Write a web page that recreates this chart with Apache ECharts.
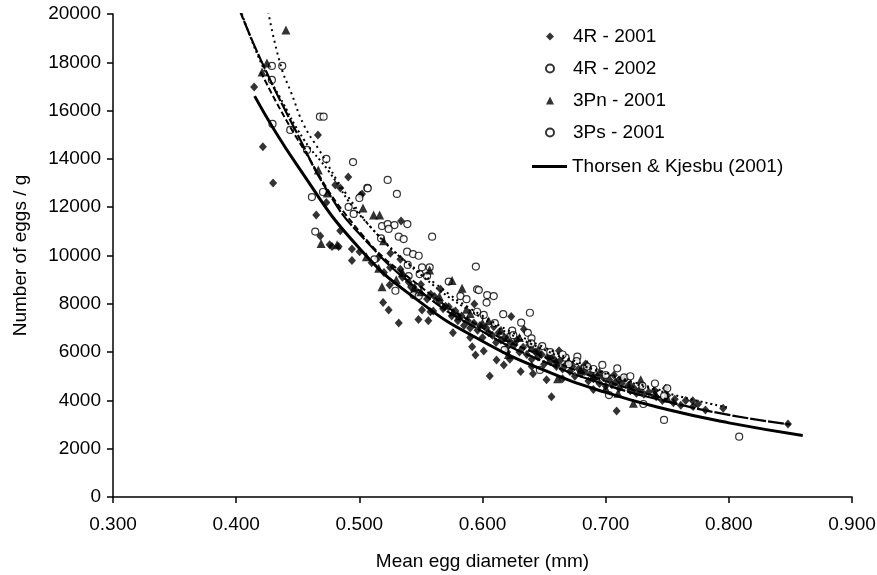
<!DOCTYPE html>
<html>
<head>
<meta charset="utf-8">
<script src="https://cdn.jsdelivr.net/npm/echarts@6/dist/echarts.min.js"></script>
<style>
  html, body { margin: 0; padding: 0; background: #fff; }
  #chart { width: 877px; height: 575px; }
</style>
</head>
<body>
<div id="chart"></div>
<script>
// values: [diameter mm, eggs per g]
var r4_2001 = [
  [0.4146,16980],[0.4217,14500],[0.430,13000],[0.4664,14990],[0.491,13250],[0.4846,12800],
  [0.5022,12550],[0.4805,12920],[0.5008,12500],[0.4732,12190],[0.465,11680],[0.5339,11430],
  [0.4845,11030],[0.4683,10810],[0.4759,10440],[0.4778,10370],[0.4832,10370],[0.494,10270],
  [0.5002,10160],[0.5252,10090],[0.494,9790],[0.5333,9840],[0.5333,9430],[0.5246,8780],
  [0.5659,8600],[0.5193,8050],[0.5238,7740],[0.5934,7990],[0.5509,7740],[0.5577,7670],
  [0.5726,7880],[0.6233,7470],[0.6336,6950],[0.6092,7050],[0.6621,6060],[0.5916,6220],
  [0.5943,5880],[0.6114,5670],[0.6173,5470],[0.6222,5700],[0.6059,5010],[0.652,4850],
  [0.6837,5510],[0.7155,4920],[0.7068,5050],[0.7108,4850],[0.7163,4920],[0.740,4400],
  [0.7488,4500],[0.7561,4050],[0.7707,3990],[0.7954,3670],[0.848,3020],[0.7089,3560],
  [0.510,9700],[0.520,9300],[0.540,8900],[0.545,8500],[0.555,8200],[0.561,8300],
  [0.570,7900],[0.575,7500],[0.580,7300],[0.585,7100],[0.590,7000],[0.596,6900],
  [0.600,6600],[0.605,6800],[0.611,6400],[0.615,6500],[0.620,6200],[0.626,6300],
  [0.630,6000],[0.636,5900],[0.640,5700],[0.645,5800],[0.650,5500],[0.655,5600],
  [0.660,5400],[0.665,5300],[0.671,5200],[0.675,5000],[0.680,5100],[0.686,4800],
  [0.690,4900],[0.695,4700],[0.700,4600],[0.705,4650],[0.711,4500],[0.720,4400],
  [0.725,4300],[0.731,4250],[0.741,4150],[0.746,4000],[0.755,3900],[0.761,3800],
  [0.771,3750],[0.781,3600],[0.656,4150],[0.631,5200],[0.641,5100],[0.601,6050],
  [0.576,6800],[0.556,7300],[0.532,7200],[0.548,7350],
  [0.515,9900],[0.525,9500],[0.535,9100],[0.542,8700],[0.550,8800],[0.558,8400],
  [0.565,8100],[0.568,7800],[0.578,7700],[0.583,7500],[0.588,7300],[0.593,7200],
  [0.598,7100],[0.603,7000],[0.608,6700],[0.613,6800],[0.618,6600],[0.623,6400],
  [0.628,6500],[0.633,6200],[0.638,6300],[0.643,6000],[0.648,5900],[0.653,5800],
  [0.658,5700],[0.663,5650],[0.668,5500],[0.673,5400],[0.678,5300],[0.683,5200],
  [0.688,5100],[0.693,5000],[0.698,4950],[0.703,4850],[0.708,4750],[0.713,4700],
  [0.718,4600],[0.723,4500],[0.728,4450],[0.735,4350],[0.750,4200],[0.765,4000],
  [0.775,3850],[0.560,7700],[0.590,6600],[0.620,6000],[0.640,5400],[0.665,4900],
  [0.690,4450]
];
var r4_2002 = [
  [0.429,17850],[0.4374,17850],[0.429,17270],[0.468,15750],[0.471,15750],[0.4295,15450],
  [0.4439,15200],[0.4575,14370],[0.4732,14000],[0.4949,13870],[0.5065,12800],[0.4615,12420],
  [0.4705,12630],[0.523,13130],[0.5068,12780],[0.5305,12550],[0.500,12380],[0.4913,12010],
  [0.4954,11720],[0.5184,11220],[0.523,11300],[0.5285,11260],[0.539,11300],[0.5238,11100],
  [0.4642,10990],[0.532,10780],[0.536,10680],[0.5591,10780],[0.5176,10710],[0.5388,10160],
  [0.5436,10060],[0.5482,9990],[0.5122,9840],[0.5393,9610],[0.5509,9510],[0.5571,9510],
  [0.5946,9540],[0.540,9150],[0.549,9230],[0.555,9150],[0.5293,8540],[0.5726,8920],
  [0.5956,8600],[0.6038,8360],[0.5441,8360],[0.5482,8320]
];
var p3n_2001 = [
  [0.4404,19340],[0.425,17970],[0.421,17600],[0.474,12590],[0.503,11970],[0.5116,11680],
  [0.5165,11680],[0.5197,10610],[0.5057,9950],[0.5157,9470],[0.557,9400],[0.5184,8710],
  [0.5753,8960],[0.5834,8640],[0.587,7770],[0.5761,7670],[0.5807,7490],[0.7285,4850],
  [0.7225,3880],[0.4819,10440],[0.469,10500],[0.4667,13540],[0.530,9000],[0.545,8700],
  [0.600,7200],[0.620,6600],[0.640,6200],[0.660,5600],[0.680,5300],[0.690,5000],
  [0.700,4500],[0.710,4300],[0.661,4900],[0.621,5900],
  [0.535,9300],[0.550,8500],[0.565,8300],[0.590,7600],[0.605,7300],[0.615,6900],
  [0.630,6600],[0.645,6100],[0.655,5900],[0.670,5600],[0.685,5500],[0.695,5200],
  [0.720,4700],[0.740,4300],[0.750,4100]
];
var p3s_2001 = [
  [0.5821,8320],[0.587,8190],[0.6033,8050],[0.5956,7670],[0.601,7540],[0.597,8570],
  [0.6091,8320],[0.6385,7630],[0.6168,7570],[0.6314,7220],[0.6241,6890],[0.6368,6800],
  [0.6398,6570],[0.6396,6360],[0.6485,6250],[0.6675,5770],[0.677,5810],[0.6764,5630],
  [0.6973,5470],[0.7094,5330],[0.6466,5260],[0.6179,6090],[0.7298,4600],[0.7474,4180],
  [0.7474,3190],[0.8084,2500],[0.7306,3850],[0.7027,4220],
  [0.655,6000],[0.665,5900],[0.685,5400],[0.690,5300],[0.715,4950],[0.720,5000],
  [0.740,4700],[0.750,4500],[0.670,5500],[0.625,6700],[0.610,7200],[0.700,5050]
];

// fitted curves, points
var thorsenCurve = [
  [0.415,16600],[0.45,13700],[0.50,10300],[0.55,8050],[0.60,6450],[0.65,5250],
  [0.70,4330],[0.75,3620],[0.80,3070],[0.86,2550]
];
var fit4R2001 = [
  [0.401,20400],[0.42,18100],[0.45,15000],[0.475,12600],[0.50,10900],[0.55,8500],
  [0.60,6850],[0.65,5600],[0.70,4650],[0.75,3950],[0.80,3400],[0.85,3000]
];
var fit4R2002 = [
  [0.402,20400],[0.42,18000],[0.435,16600],[0.455,14800],[0.475,13500],[0.50,11700],
  [0.55,9200],[0.60,7400],[0.65,6100],[0.70,5100],[0.75,4300],[0.80,3700]
];
var fit3Ps = [
  [0.426,20100],[0.436,17900],[0.445,16700],[0.455,15400],[0.467,14400],[0.49,12500],
  [0.52,10600],[0.56,8900],[0.60,7500],[0.65,6200],[0.70,5150],[0.75,4350]
];
var fit3Pn = [
  [0.42,17600],[0.45,14800],[0.50,11000],[0.55,8700],[0.60,7000],[0.65,5800],
  [0.70,4800],[0.75,4050]
];

var font = 'Liberation Sans, Arial, sans-serif'
var chart = echarts.init(document.getElementById('chart'))

function fitLine(name, data, type, width) {
  return {
    name: name,
    type: 'line',
    data: data,
    smooth: true,
    symbol: 'none',
    z: 5,
    silent: true,
    lineStyle: { color: '#000', width: width, type: type }
  }
}

var legendText = { fontFamily: font, fontSize: 19, color: '#000' }

chart.setOption({
  animation: false,
  textStyle: { fontFamily: font, color: '#000' },
  grid: { left: 113, right: 25, top: 14, bottom: 78, containLabel: false, outerBoundsMode: 'none' },
  legend: [
    {
      left: 540,
      top: 22,
      orient: 'vertical',
      itemWidth: 8,
      itemHeight: 8,
      itemGap: 13,
      textStyle: Object.assign({ padding: [0, 0, 0, 14] }, legendText),
      data: [
        { name: '4R - 2001', icon: 'diamond' },
        { name: '4R - 2002', icon: 'circle' },
        { name: '3Pn - 2001', icon: 'triangle' },
        { name: '3Ps - 2001', icon: 'circle' }
      ]
    },
    {
      left: 527,
      top: 152,
      orient: 'vertical',
      itemWidth: 35,
      itemHeight: 3,
      textStyle: legendText,
      data: [{ name: 'Thorsen & Kjesbu (2001)', icon: 'rect' }]
    }
  ],
  xAxis: {
    type: 'value',
    min: 0.3,
    max: 0.9,
    interval: 0.1,
    name: 'Mean egg diameter (mm)',
    nameLocation: 'middle',
    nameGap: 55,
    nameTextStyle: { fontSize: 19, fontFamily: font, color: '#000' },
    axisLine: { lineStyle: { color: '#000', width: 1.5 } },
    axisTick: { lineStyle: { color: '#000', width: 1.5 }, length: 6 },
    axisLabel: {
      fontSize: 19, color: '#000', margin: 18,
      formatter: function (v) { return v.toFixed(3) }
    },
    splitLine: { show: false }
  },
  yAxis: {
    type: 'value',
    min: 0,
    max: 20000,
    interval: 2000,
    name: 'Number of eggs / g',
    nameLocation: 'middle',
    nameGap: 83,
    nameTextStyle: { fontSize: 19, fontFamily: font, color: '#000' },
    axisLine: { lineStyle: { color: '#000', width: 1.5 } },
    axisTick: { lineStyle: { color: '#000', width: 1.5 }, length: 6 },
    axisLabel: {
      fontSize: 19, color: '#000', margin: 12,
      formatter: function (v) { return String(v) }
    },
    splitLine: { show: false }
  },
  series: [
    {
      name: '4R - 2001', type: 'scatter', data: r4_2001,
      symbol: 'diamond', symbolSize: [8, 9],
      itemStyle: { color: '#000' }
    },
    {
      name: '4R - 2002', type: 'scatter', data: r4_2002,
      symbol: 'circle', symbolSize: 7,
      itemStyle: { color: '#fff', borderColor: '#000', borderWidth: 1.2 }
    },
    {
      name: '3Pn - 2001', type: 'scatter', data: p3n_2001,
      symbol: 'triangle', symbolSize: 9,
      itemStyle: { color: '#000' }
    },
    {
      name: '3Ps - 2001', type: 'scatter', data: p3s_2001,
      symbol: 'circle', symbolSize: 7,
      itemStyle: { color: '#fff', borderColor: '#000', borderWidth: 1.2 }
    },
    fitLine('fit 4R-2001', fit4R2001, [16, 2], 2.2),
    fitLine('fit 4R-2002', fit4R2002, [2, 3], 2),
    fitLine('fit 3Ps-2001', fit3Ps, [2, 4], 2),
    fitLine('fit 3Pn-2001', fit3Pn, [6, 3], 2),
    {
      name: 'Thorsen & Kjesbu (2001)',
      type: 'line',
      data: thorsenCurve,
      smooth: true,
      symbol: 'none',
      z: 6,
      itemStyle: { color: '#000' },
      lineStyle: { color: '#000', width: 3 }
    }
  ]
})
</script>
</body>
</html>
